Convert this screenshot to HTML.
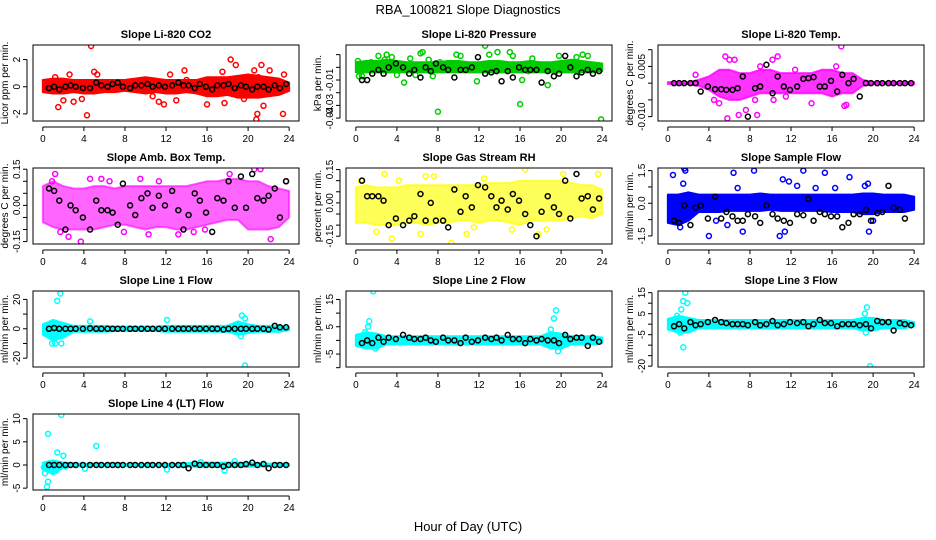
<!DOCTYPE html>
<html><head><meta charset="utf-8"><style>
html,body{margin:0;padding:0;background:#fff}
svg{display:block;font-family:"Liberation Sans",sans-serif}
</style></head><body>
<svg id="chart" width="936" height="540" viewBox="0 0 936 540" xmlns="http://www.w3.org/2000/svg">
<text x="468" y="14" text-anchor="middle" font-size="13">RBA_100821  Slope Diagnostics</text>
<text x="468" y="531" text-anchor="middle" font-size="13">Hour of Day (UTC)</text>
</svg>
<script>
const hours=[0,1,2,3,4,5,6,7,8,9,10,11,12,13,14,15,16,17,18,19,20,21,22,23,24];
const blackX=[0.6,1.1,1.6,2.2,2.7,3.2,3.9,4.6,5.2,5.7,6.3,6.8,7.3,7.8,8.5,9,9.6,10.2,10.7,11.3,11.9,12.6,13.2,13.7,14.2,14.8,15.3,15.9,16.5,17,17.6,18.1,18.7,19.3,19.8,20.4,20.9,21.5,22,22.6,23.1,23.7];
const xTicks=[0,4,8,12,16,20,24];

const titles=["Slope Li-820 CO2","Slope Li-820 Pressure","Slope Li-820 Temp.","Slope Amb. Box Temp.","Slope Gas Stream RH","Slope Sample Flow","Slope Line 1 Flow","Slope Line 2 Flow","Slope Line 3 Flow","Slope Line 4 (LT) Flow"];
const yTitles=["Licor ppm per min.","kPa per min.","degrees C per min.","degrees C per min.","percent per min.","ml/min per min.","ml/min per min.","ml/min per min.","ml/min per min.","ml/min per min."];
const colors=["#ff0000","#00cc00","#ff00ff","#ff00ff","#ffff00","#0000ff","#00ffff","#00ffff","#00ffff","#00ffff"];
const yRanges=[[-2.52,3.07],[-0.0423,0.0176],[-0.0113,0.0114],[-0.16,0.155],[-0.185,0.157],[-1.87,1.62],[-26,25.7],[-9.75,18.1],[-20.4,15.8],[-5.4,11]];
const yTicks=[[-2,0,2],[0.01,0,-0.01,-0.02,-0.03,-0.04],[0.01,0.005,0,-0.005,-0.01],[0.15,0.1,0.05,0,-0.05,-0.1,-0.15],[0.15,0.1,0.05,0,-0.05,-0.1,-0.15],[1.5,0.75,0,-0.75,-1.5],[20,10,0,-10,-20],[15,10,5,0,-5,-10],[15,10,5,0,-5,-10,-15,-20],[10,5,0,-5]];
const yTickLabels=[["-2","0","2"],["","","-0.01","","-0.03","-0.04"],["","0.005","","","-0.010"],["0.15","","","0.00","","","-0.15"],["0.15","","","0.00","","","-0.15"],["1.5","","0.0","","-1.5"],["20","","0","","-20"],["15","","5","","-5",""],["15","","5","","-5","","","-20"],["10","5","0","-5"]];

const bandLo=[
[-0.4,-0.5,-0.5,-0.4,-0.5,-0.5,-0.4,-0.4,-0.3,-0.4,-0.5,-0.4,-0.5,-0.5,-0.4,-0.5,-0.7,-0.7,-0.6,-0.8,-0.8,-0.8,-0.7,-0.6,-0.3],
[-0.004,-0.004,-0.004,-0.004,-0.004,-0.004,-0.004,-0.004,-0.004,-0.004,-0.004,-0.004,-0.004,-0.004,-0.004,-0.004,-0.004,-0.004,-0.004,-0.004,-0.004,-0.004,-0.004,-0.004,-0.003],
[-0.0003,-0.0003,-0.0003,-0.0008,-0.002,-0.004,-0.005,-0.005,-0.004,-0.003,-0.003,-0.003,-0.003,-0.003,-0.003,-0.003,-0.004,-0.003,-0.003,-0.0008,-0.0003,-0.0003,-0.0003,-0.0003,-0.0003],
[-0.07,-0.09,-0.1,-0.1,-0.1,-0.1,-0.09,-0.08,-0.08,-0.09,-0.1,-0.09,-0.09,-0.1,-0.1,-0.09,-0.08,-0.07,-0.06,-0.06,-0.1,-0.1,-0.1,-0.09,-0.05],
[-0.09,-0.09,-0.1,-0.1,-0.1,-0.09,-0.09,-0.1,-0.09,-0.09,-0.08,-0.08,-0.09,-0.08,-0.08,-0.09,-0.1,-0.08,-0.08,-0.08,-0.08,-0.07,-0.06,-0.07,-0.05],
[-0.9,-1,-0.8,-0.4,-0.4,-0.4,-0.35,-0.35,-0.35,-0.35,-0.3,-0.35,-0.35,-0.35,-0.35,-0.35,-0.4,-0.4,-0.4,-0.5,-0.5,-0.4,-0.4,-0.4,-0.3],
[-4,-8,-6,-2,-2,-2,-2,-1.5,-1.5,-1.5,-1.5,-1.5,-2,-2,-2,-2,-2,-2,-2,-4,-3,-2,-2,-2,-1],
[-2,-3,-3,-1.5,-1.5,-1.5,-1.5,-1.5,-1.5,-1.5,-1.5,-1.5,-1.5,-1.5,-1.5,-1.5,-1.5,-1.5,-1.5,-3,-3,-1.5,-1.5,-1.5,-1],
[-2.5,-4,-4,-2,-2,-2,-2,-2,-2,-2,-2,-2,-2,-2,-2,-2,-2,-2,-2,-3,-3,-2,-2,-2,-1],
[-1,-2,-0.5,-0.3,-0.3,-0.3,-0.2,-0.2,-0.2,-0.2,-0.2,-0.2,-0.2,-0.2,-0.4,-0.4,-0.4,-0.4,-0.4,-0.4,-0.4,-0.3,-0.3,-0.3,-0.2]];
const bandHi=[
[0.5,0.6,0.6,0.5,0.5,0.5,0.5,0.5,0.5,0.6,0.7,0.6,0.5,0.5,0.5,0.5,0.7,0.7,0.7,0.8,0.9,0.8,0.7,0.6,0.3],
[0.004,0.005,0.005,0.006,0.005,0.004,0.004,0.004,0.004,0.005,0.005,0.004,0.004,0.005,0.005,0.004,0.004,0.005,0.004,0.004,0.005,0.006,0.005,0.004,0.003],
[0.0003,0.0003,0.0003,0.001,0.002,0.004,0.004,0.003,0.003,0.004,0.004,0.003,0.003,0.003,0.003,0.004,0.004,0.003,0.003,0.001,0.0003,0.0003,0.0003,0.0003,0.0003],
[0.08,0.1,0.08,0.07,0.07,0.08,0.08,0.07,0.08,0.08,0.08,0.08,0.08,0.08,0.08,0.09,0.1,0.1,0.11,0.11,0.1,0.1,0.08,0.07,0.06],
[0.07,0.08,0.07,0.07,0.07,0.08,0.08,0.08,0.08,0.08,0.08,0.08,0.08,0.09,0.09,0.09,0.1,0.1,0.1,0.1,0.1,0.09,0.08,0.08,0.06],
[0.4,0.4,0.5,0.4,0.4,0.4,0.4,0.4,0.4,0.45,0.4,0.4,0.4,0.4,0.4,0.4,0.4,0.4,0.4,0.45,0.45,0.4,0.4,0.4,0.3],
[3,6,4,2,2,2,2,1.5,1.5,1.5,1.5,1.5,2,2,2,2,2,2,2,5,3,2,2,2,1],
[2,3,2.5,1.5,1.5,1.5,1.5,1.5,1.5,1.5,1.5,1.5,1.5,1.5,1.5,1.5,1.5,1.5,1.5,3,2.5,1.5,1.5,1.5,1],
[2.5,4,3,2,2,2,2,2,2,2,2,2,2,2,2,2,2,2,2,3,3,2,2,2,1],
[0.5,1,0.5,0.3,0.3,0.3,0.2,0.2,0.2,0.2,0.2,0.2,0.2,0.2,0.4,0.5,0.5,0.5,0.5,0.5,0.4,0.4,0.3,0.3,0.2]];

const outX=[
[1.5,2,3,3.8,4.3,4.7,5,5.3,2.6,10.7,11.3,11.8,12.4,13,13.8,16,17.7,18.3,18.8,19.6,20.6,20.8,20.9,21.3,21.5,22.1,23.4,23.5,21,17.5,1.2,14],
[0.2,0.3,0.6,1.5,2.2,3,3.5,4,4.7,5.3,5.8,6.3,6.5,7.5,8,8.2,9.8,10.2,11.8,12.6,13,13.8,15,15.3,16,16.2,16.8,17.2,18.7,19.8,21.5,22.1,22.6,23.9,2.8,7.1],
[2.7,4.5,5,5.6,6,6.5,5.8,6.9,7.6,8.7,8.5,10.2,10.7,12.4,14,16.9,17.4,17.2,16.4,9,10.3,11.5],
[1.2,3.7,2.5,4.6,5.7,7.9,10.3,13.2,14.7,15.8,18.2,20.6,21.2,22.2,23.7,1.7,0.9,6.5,9.5,11.3],
[2,2.8,3.5,6.3,9.3,10.8,11.5,16.5,17.8,18.6,23.6,0.5,4.2,6.8,7.6,12.5,15.2,20.2],
[0.5,1.6,1.7,1.5,1.2,4,4.7,5.8,6.4,6.8,7.3,8.4,10.9,11.4,11.2,11.8,12.6,13.2,14.4,15.3,16.3,17.7,19.2,19.6,20,19.5],
[1.4,1.7,1.2,0.9,1.8,19.4,19.7,19.7,12.1,4.6,19.3],
[1.2,1.3,1.5,1.6,1.7,1.9,19,19.3,19.5,19.7,19.6,0.9],
[0.9,1.3,1.5,1.7,1.9,1.5,1.2,19.4,19.2,19.3,19.7,0.5],
[0.1,0.2,0.4,0.5,0.5,1.4,1.3,1.8,2,5.2,4.1,12.1,17.7,18.7,15.4,2.2]];
const outY=[
[-1.5,-1,-1.1,-0.9,-2.1,3,1.1,0.9,0.9,-0.7,-1.1,-1.3,0.9,-1,1.2,-1.3,-1.2,2,1.6,-0.9,1.2,-2.4,-2,1.6,-1.4,1.2,-2,0.9,0.7,1.1,0.7,0.5],
[0.005,-0.007,-0.007,0.004,0.009,0.01,0.008,-0.006,-0.012,0.007,-0.006,0.011,0.012,-0.007,-0.035,0.004,0.01,0.009,-0.011,0.017,0.01,0.012,0.012,0.009,-0.029,-0.01,-0.003,0.007,-0.014,0.009,0.008,0.01,0.009,-0.041,0.006,0.006],
[0.0025,-0.005,-0.006,0.008,0.007,0.007,-0.0105,-0.0095,-0.008,-0.0095,-0.005,0.007,0.008,0.004,-0.006,0.011,-0.0065,-0.0068,0.005,0.005,-0.005,-0.004],
[0.13,-0.15,-0.13,0.11,0.11,-0.11,-0.12,-0.12,-0.11,-0.1,0.13,0.15,0.15,-0.14,0.1,-0.11,0.1,0.1,0.11,0.1],
[-0.13,0.13,-0.16,-0.14,-0.18,-0.14,-0.11,0.15,-0.14,-0.12,0.13,0.1,0.1,0.12,0.12,0.11,-0.12,0.13],
[1.3,1.6,1.5,0.9,-1.1,-1.5,-0.8,-1,1.4,0.7,-1.3,1.5,-1.5,-1.3,1.1,1,0.8,1.5,0.7,1.4,0.7,1.2,0.8,-1.3,-0.8,0.9],
[19,24,-10,-10,-10,9,7,-25,6,5,-5],
[5,7,2,-16,18,-3,4,8,11,-4,-2,3],
[4,7,11,15,10,-11,-4,8,5,-4,-20,-2],
[-0.5,-1.8,-4.7,6.7,-3.6,2.7,-1.2,10.8,2,4.1,-0.8,-1,-1.2,0.8,0.6,-0.3]];

const blackY=[
[-0.1,0,-0.2,0,0.1,0,-0.1,-0.1,0.3,0.1,0,0.2,0.3,0,-0.1,0.1,0.1,0.2,0,0.1,0,0.1,0.3,0.1,0.1,-0.1,0.2,0,-0.2,0.1,0.1,0.2,-0.1,0.1,0,-0.2,0,0,-0.2,0.1,-0.1,0.2],
[-0.01,-0.01,-0.005,-0.002,-0.005,0,0.003,0,-0.005,-0.002,-0.008,0,-0.003,0.003,0,-0.002,-0.008,-0.002,-0.002,0,0.008,-0.005,-0.004,-0.003,-0.011,-0.003,-0.008,0,-0.002,-0.002,-0.002,-0.012,-0.003,-0.007,-0.005,0.009,0,-0.007,-0.004,-0.002,-0.005,-0.003],
[0,0,0,0,0,-0.0025,-0.001,-0.0018,-0.0018,-0.002,-0.002,-0.0015,0.002,-0.01,-0.0015,-0.001,0.0055,-0.003,0.002,-0.001,-0.002,-0.001,0.0013,0.0015,0.0018,-0.001,-0.001,0.0007,-0.0025,0.0025,0,0.0013,-0.004,0,0,0,0,0,0,0,0,0],
[0.07,0.06,0.02,-0.1,0.0,-0.02,-0.05,-0.1,0.02,-0.02,-0.02,-0.03,-0.08,0.09,0,-0.04,0.03,0.05,-0.01,0.04,0,0.06,-0.02,-0.1,-0.04,0.05,0.02,-0.03,-0.11,0.03,0.02,0.1,-0.01,0.12,-0.01,0.13,0.03,0.02,0.04,0.07,-0.05,0.1],
[0.1,0.03,0.03,0.03,0.01,-0.1,-0.07,-0.1,-0.08,-0.06,0.04,-0.08,0,-0.08,-0.08,-0.11,0.06,-0.04,0.03,-0.02,0.08,0.07,0.03,-0.02,0.01,-0.03,0.04,0.01,-0.05,-0.1,-0.15,-0.04,0.03,-0.02,-0.05,0.1,-0.07,0.13,0.02,0.03,-0.03,0.02],
[-0.8,-0.9,-0.1,-1,-0.2,-0.1,-0.7,0.3,-0.7,-0.4,-0.6,-0.8,-0.8,-0.5,-0.6,-0.9,-0.1,-0.5,-0.7,-0.8,-0.9,-0.5,-0.55,0.2,-0.8,-0.4,-0.5,-0.6,-0.6,-1.1,-0.9,-0.5,-0.5,-0.3,-0.8,-0.45,-0.4,0.8,-0.2,-0.3,-0.7,-2],
[0,0.5,0,0,0,0,0,0.3,0,0,0,0,0,0,0,0,0,0,0,0,0,0,0,0,0,0,0,0,0,0,-0.5,0,0,0,0,0,0,0,-0.5,2,1,1],
[-1,0,-1,1,-0.5,1,0.5,2,1,0.5,0.5,1,0,-0.5,1,0,0,-1,1,-0.5,0,1,0.5,1,0,2,0.5,0.5,-1,0.5,0,0.5,0,0,-1,2,0.5,1,1,-2,1,-0.5],
[-1,0,-2,1,-0.5,0,1,2,1,0.5,0,0,0,-0.5,1,-0.5,0,1.5,-0.5,0,1,0.5,1,-1,0,2,0.5,0.5,-1,0,0,0,-0.5,0,-2,1.5,1,1,-3,0.5,0,-0.5],
[0,0,0,0,0,0,0,0,0,0,0,0,0,0,0,0,0,0,0,0,0,0,0,0,-0.7,0.3,0,0,0,0,-0.3,0,0,0,0.2,0.5,0,0.2,-0.7,0,0,0]];

const bandOpacity=[1,1,0.8,0.6,0.65,1,1,1,1,1];

const NS="http://www.w3.org/2000/svg";
const svg=document.getElementById('chart');
const colLeft=[33,346,658], rowTop=[45,168,291,414], boxW=266, boxH=76;
function mk(tag,attrs,parent){const e=document.createElementNS(NS,tag);for(const k in attrs)e.setAttribute(k,attrs[k]);(parent||svg).appendChild(e);return e;}

for(let p=0;p<10;p++){
  const L=colLeft[p%3], T=rowTop[Math.floor(p/3)];
  const g=mk('g',{});
  
  
  const xs=h=>L+(h+0.96)/25.92*boxW;
  const [y0,y1]=yRanges[p];
  const ys=v=>T+boxH-(v-y0)/(y1-y0)*boxH;
  const clipId='clip'+p;
  const cp=mk('clipPath',{id:clipId},g);mk('rect',{x:L,y:T,width:boxW,height:boxH},cp);
  const plot=mk('g',{'clip-path':'url(#'+clipId+')'},g);
  let pts=hours.map((h,i)=>xs(h)+','+ys(bandHi[p][i]));
  pts=pts.concat(hours.slice().reverse().map((h,j)=>{const i=hours.length-1-j;return xs(h)+','+ys(bandLo[p][i]);}));
  const band=mk('polygon',{points:pts.join(' '),fill:colors[p],stroke:colors[p],'stroke-width':2,'stroke-linejoin':'round','fill-opacity':bandOpacity[p],'stroke-opacity':bandOpacity[p]},plot);
  
  
  outX[p].forEach((x,i)=>{
    const c=mk('circle',{cx:xs(x),cy:ys(outY[p][i]),r:2.5,fill:'none',stroke:colors[p],'stroke-width':1.5},plot);
    
    
  });
  blackX.forEach((x,i)=>{
    const c=mk('circle',{cx:xs(x),cy:ys(blackY[p][i]),r:2.5,fill:'none',stroke:'#000','stroke-width':1.5},plot);
    
    
  });
  const box=mk('rect',{x:L,y:T,width:boxW,height:boxH,fill:'none',stroke:'#000','stroke-width':1},g);
  
  
  const tt=mk('text',{x:L+boxW/2,y:T-7,'text-anchor':'middle','font-size':11,'font-weight':'bold'},g);
  tt.textContent=titles[p];
  
  
  const xb=T+boxH+6;
  mk('line',{x1:xs(0),x2:xs(24),y1:xb,y2:xb,stroke:'#000'},g);
  xTicks.forEach(t=>{
    mk('line',{x1:xs(t),x2:xs(t),y1:xb,y2:xb+4,stroke:'#000'},g);
    const lb=mk('text',{x:xs(t),y:xb+15,'text-anchor':'middle','font-size':10},g);
    lb.textContent=t;
    
    
  });
  const ya=L-6;
  const tv=yTicks[p];
  mk('line',{x1:ya,x2:ya,y1:ys(Math.max(...tv)),y2:ys(Math.min(...tv)),stroke:'#000'},g);
  tv.forEach((v,i)=>{
    mk('line',{x1:ya-4,x2:ya,y1:ys(v),y2:ys(v),stroke:'#000'},g);
    const s=yTickLabels[p][i];
    if(s){
      const lb=mk('text',{x:0,y:0,'text-anchor':'middle','font-size':10,transform:'translate('+(ya-7)+','+ys(v)+') rotate(-90)'},g);
      lb.textContent=s;
      
      
    }
  });
  const yt=mk('text',{x:0,y:0,'text-anchor':'middle','font-size':10,transform:'translate('+(L-25)+','+(T+boxH/2)+') rotate(-90)'},g);
  yt.textContent=yTitles[p];
  
  
}
</script>
</body></html>
